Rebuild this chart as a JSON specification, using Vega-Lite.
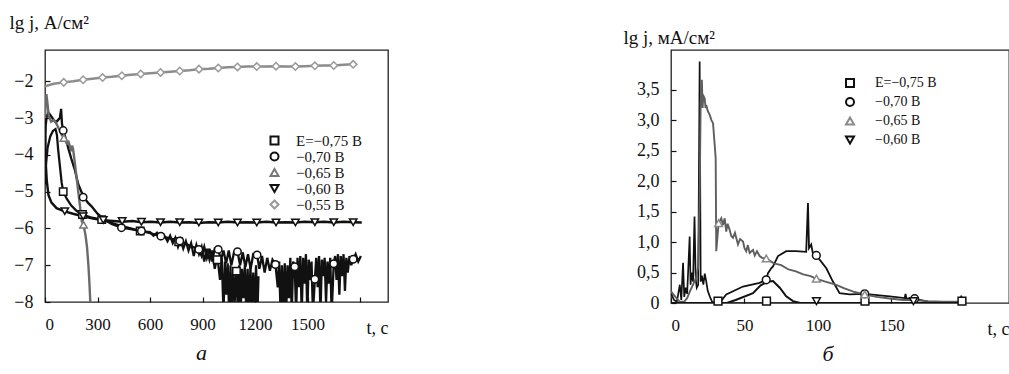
{
  "$schema": "https://vega.github.io/schema/vega-lite/v6.json",
  "padding": {"left": 8, "top": 12, "right": 0, "bottom": 0},
  "spacing": 233,
  "resolve": {"scale": {"color": "independent", "stroke": "independent", "shape": "independent", "strokeWidth": "independent"}, "legend": {"color": "independent", "stroke": "independent", "shape": "independent", "strokeWidth": "independent"}},
  "config": {
    "font": "Liberation Serif",
    "view": {"stroke": "#222", "strokeWidth": 1.3},
    "axis": {"grid": false, "domain": false, "tickColor": "#111", "tickSize": -5, "tickWidth": 1.2, "labelColor": "#111", "labelFontSize": 18, "titleColor": "#111", "titleFontWeight": "normal", "labelFont": "Liberation Serif", "titleFont": "Liberation Serif", "labelOverlap": false, "tickCount": 20},
    "axisX": {"labelPadding": 19, "labelFontSize": 17},
    "axisY": {"labelPadding": 17},
    "legend": {"labelFont": "Liberation Serif", "labelColor": "#111", "padding": 0, "rowPadding": 0, "symbolSize": 64, "symbolStrokeWidth": 2},
    "title": {"fontWeight": "normal", "fontStyle": "italic", "fontSize": 22, "color": "#111", "font": "Liberation Serif"}
  },
  "datasets": {
    "leftLines": [
      {"s":"75","t":0,"v":-4.8},{"s":"75","t":5,"v":-4.3},{"s":"75","t":15,"v":-3.8},{"s":"75","t":30,"v":-3.5},{"s":"75","t":45,"v":-3.35},{"s":"75","t":60,"v":-3.3},{"s":"75","t":68,"v":-3.45},{"s":"75","t":75,"v":-3.85},{"s":"75","t":85,"v":-4.3},{"s":"75","t":95,"v":-4.75},{"s":"75","t":104,"v":-5.0},{"s":"75","t":125,"v":-5.2},{"s":"75","t":150,"v":-5.38},{"s":"75","t":180,"v":-5.52},{"s":"75","t":214,"v":-5.62},{"s":"75","t":260,"v":-5.7},{"s":"75","t":324,"v":-5.76},{"s":"75","t":380,"v":-5.85},{"s":"75","t":434,"v":-5.93},{"s":"75","t":490,"v":-6.0},{"s":"75","t":544,"v":-6.07},{"s":"75","t":600,"v":-6.1},{"s":"75","t":620,"v":-6.2},{"s":"75","t":640,"v":-6.12},{"s":"75","t":660,"v":-6.28},{"s":"75","t":680,"v":-6.18},{"s":"75","t":700,"v":-6.35},{"s":"75","t":715,"v":-6.2},{"s":"75","t":730,"v":-6.4},{"s":"75","t":745,"v":-6.25},{"s":"75","t":760,"v":-6.5},{"s":"75","t":775,"v":-6.3},{"s":"75","t":790,"v":-6.55},{"s":"75","t":805,"v":-6.35},{"s":"75","t":820,"v":-6.6},{"s":"75","t":835,"v":-6.4},{"s":"75","t":850,"v":-6.75},{"s":"75","t":865,"v":-6.45},{"s":"75","t":880,"v":-6.7},{"s":"75","t":895,"v":-6.5},{"s":"75","t":910,"v":-6.9},{"s":"75","t":925,"v":-6.55},{"s":"75","t":940,"v":-6.85},{"s":"75","t":955,"v":-6.6},{"s":"75","t":970,"v":-7.1},{"s":"75","t":985,"v":-6.75},{"s":"75","t":1000,"v":-7.4},{"s":"75","t":1010,"v":-6.8},{"s":"75","t":1020,"v":-8.3},{"s":"75","t":1028,"v":-6.9},{"s":"75","t":1036,"v":-7.8},{"s":"75","t":1044,"v":-6.95},{"s":"75","t":1052,"v":-8.3},{"s":"75","t":1060,"v":-7.0},{"s":"75","t":1068,"v":-8.3},{"s":"75","t":1076,"v":-7.05},{"s":"75","t":1084,"v":-8.0},{"s":"75","t":1094,"v":-7.16},{"s":"75","t":1102,"v":-8.3},{"s":"75","t":1110,"v":-7.0},{"s":"75","t":1118,"v":-8.3},{"s":"75","t":1126,"v":-7.1},{"s":"75","t":1134,"v":-7.9},{"s":"75","t":1142,"v":-7.0},{"s":"75","t":1150,"v":-8.3},{"s":"75","t":1158,"v":-7.1},{"s":"75","t":1166,"v":-8.3},{"s":"75","t":1174,"v":-7.0},{"s":"75","t":1182,"v":-8.3},{"s":"75","t":1190,"v":-7.2},{"s":"75","t":1198,"v":-8.3},{"s":"75","t":1206,"v":-7.0},{"s":"75","t":1214,"v":-8.3},{"s":"75","t":1220,"v":-7.3},
      {"s":"70","t":0,"v":-4.0},{"s":"70","t":4,"v":-3.2},{"s":"70","t":10,"v":-2.95},{"s":"70","t":20,"v":-2.85},{"s":"70","t":35,"v":-2.95},{"s":"70","t":50,"v":-3.05},{"s":"70","t":62,"v":-3.12},{"s":"70","t":75,"v":-3.05},{"s":"70","t":85,"v":-3.0},{"s":"70","t":92,"v":-2.75},{"s":"70","t":97,"v":-3.15},{"s":"70","t":104,"v":-3.34},{"s":"70","t":118,"v":-3.55},{"s":"70","t":135,"v":-3.85},{"s":"70","t":150,"v":-4.1},{"s":"70","t":170,"v":-4.4},{"s":"70","t":190,"v":-4.8},{"s":"70","t":218,"v":-5.12},{"s":"70","t":245,"v":-5.3},{"s":"70","t":266,"v":-5.4},{"s":"70","t":300,"v":-5.6},{"s":"70","t":330,"v":-5.72},{"s":"70","t":380,"v":-5.88},{"s":"70","t":437,"v":-5.98},{"s":"70","t":490,"v":-6.02},{"s":"70","t":551,"v":-6.07},{"s":"70","t":600,"v":-6.13},{"s":"70","t":662,"v":-6.21},{"s":"70","t":715,"v":-6.27},{"s":"70","t":770,"v":-6.34},{"s":"70","t":820,"v":-6.45},{"s":"70","t":879,"v":-6.57},{"s":"70","t":895,"v":-6.75},{"s":"70","t":910,"v":-6.5},{"s":"70","t":925,"v":-6.8},{"s":"70","t":940,"v":-6.55},{"s":"70","t":955,"v":-6.9},{"s":"70","t":970,"v":-6.55},{"s":"70","t":990,"v":-6.57},{"s":"70","t":1005,"v":-6.85},{"s":"70","t":1020,"v":-6.6},{"s":"70","t":1035,"v":-6.95},{"s":"70","t":1050,"v":-6.6},{"s":"70","t":1065,"v":-7.0},{"s":"70","t":1080,"v":-6.65},{"s":"70","t":1100,"v":-6.63},{"s":"70","t":1115,"v":-7.0},{"s":"70","t":1130,"v":-6.65},{"s":"70","t":1145,"v":-7.05},{"s":"70","t":1160,"v":-6.7},{"s":"70","t":1175,"v":-7.1},{"s":"70","t":1190,"v":-6.7},{"s":"70","t":1212,"v":-6.72},{"s":"70","t":1225,"v":-7.1},{"s":"70","t":1240,"v":-6.75},{"s":"70","t":1255,"v":-7.2},{"s":"70","t":1270,"v":-6.8},{"s":"70","t":1285,"v":-7.15},{"s":"70","t":1300,"v":-6.85},{"s":"70","t":1317,"v":-6.98},{"s":"70","t":1330,"v":-7.6},{"s":"70","t":1338,"v":-6.9},{"s":"70","t":1346,"v":-8.3},{"s":"70","t":1354,"v":-7.0},{"s":"70","t":1362,"v":-8.3},{"s":"70","t":1370,"v":-6.95},{"s":"70","t":1378,"v":-8.3},{"s":"70","t":1386,"v":-7.0},{"s":"70","t":1394,"v":-7.9},{"s":"70","t":1402,"v":-6.8},{"s":"70","t":1410,"v":-8.3},{"s":"70","t":1418,"v":-6.9},{"s":"70","t":1427,"v":-7.04},{"s":"70","t":1435,"v":-8.3},{"s":"70","t":1443,"v":-6.8},{"s":"70","t":1451,"v":-7.6},{"s":"70","t":1459,"v":-6.75},{"s":"70","t":1467,"v":-8.3},{"s":"70","t":1475,"v":-6.8},{"s":"70","t":1483,"v":-7.5},{"s":"70","t":1491,"v":-6.7},{"s":"70","t":1499,"v":-8.3},{"s":"70","t":1507,"v":-6.85},{"s":"70","t":1515,"v":-7.4},{"s":"70","t":1523,"v":-6.9},{"s":"70","t":1531,"v":-8.3},{"s":"70","t":1542,"v":-7.38},{"s":"70","t":1550,"v":-6.8},{"s":"70","t":1558,"v":-7.6},{"s":"70","t":1566,"v":-6.75},{"s":"70","t":1574,"v":-8.3},{"s":"70","t":1582,"v":-6.85},{"s":"70","t":1590,"v":-7.3},{"s":"70","t":1598,"v":-6.8},{"s":"70","t":1606,"v":-8.0},{"s":"70","t":1614,"v":-6.9},{"s":"70","t":1622,"v":-7.5},{"s":"70","t":1630,"v":-6.8},{"s":"70","t":1638,"v":-8.3},{"s":"70","t":1650,"v":-6.96},{"s":"70","t":1658,"v":-6.75},{"s":"70","t":1666,"v":-7.4},{"s":"70","t":1674,"v":-6.7},{"s":"70","t":1682,"v":-7.8},{"s":"70","t":1690,"v":-6.75},{"s":"70","t":1698,"v":-7.3},{"s":"70","t":1706,"v":-6.7},{"s":"70","t":1714,"v":-7.7},{"s":"70","t":1722,"v":-6.8},{"s":"70","t":1730,"v":-7.2},{"s":"70","t":1740,"v":-6.75},{"s":"70","t":1750,"v":-7.0},{"s":"70","t":1761,"v":-6.84},{"s":"70","t":1775,"v":-6.7},{"s":"70","t":1790,"v":-6.9},{"s":"70","t":1805,"v":-6.75},
      {"s":"65","t":0,"v":-3.0},{"s":"65","t":4,"v":-2.5},{"s":"65","t":8,"v":-2.35},{"s":"65","t":14,"v":-2.6},{"s":"65","t":22,"v":-2.95},{"s":"65","t":35,"v":-3.1},{"s":"65","t":50,"v":-3.05},{"s":"65","t":65,"v":-3.15},{"s":"65","t":80,"v":-3.3},{"s":"65","t":95,"v":-3.45},{"s":"65","t":108,"v":-3.54},{"s":"65","t":125,"v":-3.7},{"s":"65","t":135,"v":-3.65},{"s":"65","t":142,"v":-3.76},{"s":"65","t":150,"v":-3.9},{"s":"65","t":155,"v":-3.75},{"s":"65","t":161,"v":-3.86},{"s":"65","t":170,"v":-4.2},{"s":"65","t":185,"v":-4.8},{"s":"65","t":200,"v":-5.4},{"s":"65","t":210,"v":-5.8},{"s":"65","t":220,"v":-5.9},{"s":"65","t":232,"v":-6.2},{"s":"65","t":240,"v":-6.5},{"s":"65","t":248,"v":-7.0},{"s":"65","t":254,"v":-7.5},{"s":"65","t":258,"v":-7.9},{"s":"65","t":262,"v":-8.4},
      {"s":"60","t":0,"v":-3.5},{"s":"60","t":4,"v":-4.2},{"s":"60","t":10,"v":-4.7},{"s":"60","t":20,"v":-5.1},{"s":"60","t":37,"v":-5.3},{"s":"60","t":66,"v":-5.45},{"s":"60","t":108,"v":-5.53},{"s":"60","t":160,"v":-5.6},{"s":"60","t":218,"v":-5.67},{"s":"60","t":275,"v":-5.73},{"s":"60","t":333,"v":-5.78},{"s":"60","t":390,"v":-5.8},{"s":"60","t":441,"v":-5.82},{"s":"60","t":500,"v":-5.8},{"s":"60","t":551,"v":-5.83},{"s":"60","t":605,"v":-5.82},{"s":"60","t":660,"v":-5.84},{"s":"60","t":715,"v":-5.82},{"s":"60","t":770,"v":-5.84},{"s":"60","t":825,"v":-5.83},{"s":"60","t":879,"v":-5.85},{"s":"60","t":935,"v":-5.83},{"s":"60","t":990,"v":-5.84},{"s":"60","t":1045,"v":-5.82},{"s":"60","t":1100,"v":-5.84},{"s":"60","t":1155,"v":-5.83},{"s":"60","t":1210,"v":-5.84},{"s":"60","t":1265,"v":-5.82},{"s":"60","t":1320,"v":-5.84},{"s":"60","t":1375,"v":-5.83},{"s":"60","t":1431,"v":-5.84},{"s":"60","t":1485,"v":-5.82},{"s":"60","t":1542,"v":-5.83},{"s":"60","t":1595,"v":-5.82},{"s":"60","t":1650,"v":-5.84},{"s":"60","t":1705,"v":-5.82},{"s":"60","t":1761,"v":-5.83},{"s":"60","t":1810,"v":-5.84},
      {"s":"55","t":0,"v":-2.14},{"s":"55","t":20,"v":-2.11},{"s":"55","t":50,"v":-2.07},{"s":"55","t":107,"v":-2.03},{"s":"55","t":160,"v":-2.0},{"s":"55","t":218,"v":-1.96},{"s":"55","t":270,"v":-1.93},{"s":"55","t":329,"v":-1.9},{"s":"55","t":380,"v":-1.88},{"s":"55","t":439,"v":-1.85},{"s":"55","t":490,"v":-1.82},{"s":"55","t":547,"v":-1.8},{"s":"55","t":600,"v":-1.78},{"s":"55","t":660,"v":-1.76},{"s":"55","t":715,"v":-1.74},{"s":"55","t":770,"v":-1.72},{"s":"55","t":825,"v":-1.7},{"s":"55","t":880,"v":-1.67},{"s":"55","t":935,"v":-1.66},{"s":"55","t":990,"v":-1.64},{"s":"55","t":1045,"v":-1.62},{"s":"55","t":1100,"v":-1.61},{"s":"55","t":1155,"v":-1.6},{"s":"55","t":1210,"v":-1.6},{"s":"55","t":1265,"v":-1.6},{"s":"55","t":1320,"v":-1.59},{"s":"55","t":1375,"v":-1.6},{"s":"55","t":1431,"v":-1.6},{"s":"55","t":1485,"v":-1.59},{"s":"55","t":1542,"v":-1.58},{"s":"55","t":1595,"v":-1.57},{"s":"55","t":1650,"v":-1.57},{"s":"55","t":1705,"v":-1.55},{"s":"55","t":1761,"v":-1.54}
    ],
    "leftMarks": [
      {"s":"75","t":104,"v":-5.0},{"s":"75","t":214,"v":-5.62},{"s":"75","t":324,"v":-5.76},{"s":"75","t":544,"v":-6.07},{"s":"75","t":764,"v":-6.36},{"s":"75","t":984,"v":-6.85},{"s":"75","t":1094,"v":-7.16},
      {"s":"70","t":104,"v":-3.34},{"s":"70","t":218,"v":-5.15},{"s":"70","t":437,"v":-5.98},{"s":"70","t":551,"v":-6.07},{"s":"70","t":662,"v":-6.21},{"s":"70","t":770,"v":-6.34},{"s":"70","t":879,"v":-6.57},{"s":"70","t":990,"v":-6.57},{"s":"70","t":1100,"v":-6.63},{"s":"70","t":1212,"v":-6.72},{"s":"70","t":1317,"v":-6.98},{"s":"70","t":1427,"v":-7.04},{"s":"70","t":1542,"v":-7.38},{"s":"70","t":1650,"v":-6.96},{"s":"70","t":1761,"v":-6.84},
      {"s":"65","t":108,"v":-3.54},{"s":"65","t":220,"v":-5.9},
      {"s":"60","t":113,"v":-5.53},{"s":"60","t":218,"v":-5.67},{"s":"60","t":333,"v":-5.77},{"s":"60","t":441,"v":-5.8},{"s":"60","t":551,"v":-5.82},{"s":"60","t":660,"v":-5.83},{"s":"60","t":770,"v":-5.83},{"s":"60","t":879,"v":-5.84},{"s":"60","t":990,"v":-5.84},{"s":"60","t":1100,"v":-5.84},{"s":"60","t":1210,"v":-5.84},{"s":"60","t":1320,"v":-5.84},{"s":"60","t":1431,"v":-5.84},{"s":"60","t":1542,"v":-5.83},{"s":"60","t":1650,"v":-5.83},{"s":"60","t":1761,"v":-5.83},
      {"s":"55","t":107,"v":-2.03},{"s":"55","t":218,"v":-1.96},{"s":"55","t":329,"v":-1.9},{"s":"55","t":439,"v":-1.85},{"s":"55","t":547,"v":-1.8},{"s":"55","t":660,"v":-1.76},{"s":"55","t":770,"v":-1.72},{"s":"55","t":880,"v":-1.67},{"s":"55","t":990,"v":-1.64},{"s":"55","t":1100,"v":-1.61},{"s":"55","t":1210,"v":-1.6},{"s":"55","t":1320,"v":-1.59},{"s":"55","t":1431,"v":-1.6},{"s":"55","t":1542,"v":-1.58},{"s":"55","t":1650,"v":-1.57},{"s":"55","t":1761,"v":-1.54}
    ],
    "rightLines": [
      {"s":"75","t":0,"v":0.16},{"s":"75","t":2,"v":0.05},{"s":"75","t":4,"v":0.02},{"s":"75","t":6,"v":0.3},{"s":"75","t":7,"v":0.05},{"s":"75","t":8.2,"v":0.66},{"s":"75","t":9,"v":0.1},{"s":"75","t":10,"v":0.25},{"s":"75","t":11,"v":0.15},{"s":"75","t":12.7,"v":1.09},{"s":"75","t":13.3,"v":0.3},{"s":"75","t":14,"v":0.5},{"s":"75","t":15,"v":0.35},{"s":"75","t":16,"v":1.42},{"s":"75","t":16.8,"v":0.4},{"s":"75","t":17.5,"v":0.25},{"s":"75","t":18.5,"v":0.3},{"s":"75","t":19.5,"v":3.96},{"s":"75","t":20.2,"v":0.35},{"s":"75","t":21,"v":0.45},{"s":"75","t":22,"v":0.3},{"s":"75","t":23,"v":0.48},{"s":"75","t":24,"v":0.35},{"s":"75","t":25,"v":0.2},{"s":"75","t":26.5,"v":0.1},{"s":"75","t":28,"v":0.02},{"s":"75","t":30,"v":0},{"s":"75","t":100,"v":0},{"s":"75","t":200,"v":0},
      {"s":"70","t":0,"v":0},{"s":"70","t":33,"v":0},{"s":"70","t":37.6,"v":0.14},{"s":"70","t":49,"v":0.27},{"s":"70","t":60.3,"v":0.33},{"s":"70","t":64.8,"v":0.38},{"s":"70","t":66,"v":0.49},{"s":"70","t":68.2,"v":0.57},{"s":"70","t":69.4,"v":0.6},{"s":"70","t":72.8,"v":0.77},{"s":"70","t":78.4,"v":0.85},{"s":"70","t":85,"v":0.85},{"s":"70","t":92,"v":0.84},{"s":"70","t":93.2,"v":1.64},{"s":"70","t":93.9,"v":0.9},{"s":"70","t":95.4,"v":0.96},{"s":"70","t":96.5,"v":0.82},{"s":"70","t":98.9,"v":0.78},{"s":"70","t":105.7,"v":0.57},{"s":"70","t":110,"v":0.36},{"s":"70","t":114.7,"v":0.16},{"s":"70","t":121.5,"v":0.14},{"s":"70","t":131.8,"v":0.15},{"s":"70","t":148.8,"v":0.11},{"s":"70","t":159,"v":0.08},{"s":"70","t":159.6,"v":0.15},{"s":"70","t":160.2,"v":0.07},{"s":"70","t":165.8,"v":0.07},{"s":"70","t":175,"v":0.02},{"s":"70","t":185,"v":0.0},{"s":"70","t":197,"v":0.0},{"s":"70","t":197.5,"v":0.12},{"s":"70","t":198,"v":0.0},{"s":"70","t":200,"v":0.0},
      {"s":"65","t":0,"v":0.19},{"s":"65","t":3,"v":0.1},{"s":"65","t":6,"v":0.02},{"s":"65","t":9,"v":0.02},{"s":"65","t":11,"v":0.08},{"s":"65","t":13,"v":0.2},{"s":"65","t":15,"v":0.3},{"s":"65","t":17,"v":0.41},{"s":"65","t":18.5,"v":0.6},{"s":"65","t":19.5,"v":1.75},{"s":"65","t":20.2,"v":3.3},{"s":"65","t":21,"v":3.66},{"s":"65","t":21.5,"v":3.2},{"s":"65","t":22,"v":3.4},{"s":"65","t":22.9,"v":3.36},{"s":"65","t":23.5,"v":3.2},{"s":"65","t":24,"v":3.25},{"s":"65","t":25,"v":3.15},{"s":"65","t":26.3,"v":3.09},{"s":"65","t":27.5,"v":3.0},{"s":"65","t":28.6,"v":2.95},{"s":"65","t":30.4,"v":2.38},{"s":"65","t":30.8,"v":0.85},{"s":"65","t":32.4,"v":1.31},{"s":"65","t":34.2,"v":1.39},{"s":"65","t":35.4,"v":1.28},{"s":"65","t":36.5,"v":1.39},{"s":"65","t":37.6,"v":1.17},{"s":"65","t":38.5,"v":1.3},{"s":"65","t":39.9,"v":1.2},{"s":"65","t":41,"v":1.1},{"s":"65","t":42.2,"v":1.07},{"s":"65","t":43.5,"v":1.15},{"s":"65","t":45.6,"v":0.96},{"s":"65","t":47,"v":1.05},{"s":"65","t":49,"v":1.01},{"s":"65","t":50,"v":0.9},{"s":"65","t":51.2,"v":0.85},{"s":"65","t":52.3,"v":0.95},{"s":"65","t":53.5,"v":0.82},{"s":"65","t":55.8,"v":0.87},{"s":"65","t":57,"v":0.78},{"s":"65","t":58.5,"v":0.85},{"s":"65","t":60.3,"v":0.77},{"s":"65","t":62,"v":0.74},{"s":"65","t":64.8,"v":0.73},{"s":"65","t":70,"v":0.65},{"s":"65","t":75,"v":0.62},{"s":"65","t":80,"v":0.55},{"s":"65","t":85,"v":0.52},{"s":"65","t":90,"v":0.47},{"s":"65","t":95,"v":0.44},{"s":"65","t":98.6,"v":0.4},{"s":"65","t":105,"v":0.35},{"s":"65","t":112,"v":0.3},{"s":"65","t":118,"v":0.24},{"s":"65","t":125,"v":0.18},{"s":"65","t":131.8,"v":0.14},{"s":"65","t":140,"v":0.1},{"s":"65","t":150,"v":0.07},{"s":"65","t":158,"v":0.05},{"s":"65","t":164.6,"v":0.05},{"s":"65","t":175,"v":0.03},{"s":"65","t":185,"v":0.02},{"s":"65","t":198,"v":0.02},{"s":"65","t":200,"v":0.0},
      {"s":"60","t":0,"v":0},{"s":"60","t":38,"v":0},{"s":"60","t":44,"v":0.05},{"s":"60","t":55.8,"v":0.16},{"s":"60","t":61,"v":0.29},{"s":"60","t":66,"v":0.35},{"s":"60","t":69.4,"v":0.36},{"s":"60","t":74,"v":0.25},{"s":"60","t":78.4,"v":0.11},{"s":"60","t":83,"v":0.03},{"s":"60","t":88,"v":0},{"s":"60","t":200,"v":0}
    ],
    "rightMarks": [
      {"s":"75","t":32,"v":0.03},{"s":"75","t":65,"v":0.03},{"s":"75","t":132,"v":0.03},{"s":"75","t":198,"v":0.03},
      {"s":"70","t":64.8,"v":0.38},{"s":"70","t":98.9,"v":0.78},{"s":"70","t":131.8,"v":0.15},{"s":"70","t":165.8,"v":0.07},
      {"s":"65","t":32.4,"v":1.31},{"s":"65","t":64.8,"v":0.73},{"s":"65","t":98.9,"v":0.4},{"s":"65","t":131.8,"v":0.14},
      {"s":"60","t":99,"v":0.03},{"s":"60","t":165,"v":0.03}
    ]
  },
  "hconcat": [
    {
      "width": 343,
      "height": 252,
      "title": {"text": "а", "orient": "bottom", "offset": 6, "dx": -15},
      "layer": [
        {
          "data": {"name": "leftLines"},
          "mark": {"type": "line", "clip": true},
          "encoding": {
            "x": {"field": "t", "type": "quantitative", "scale": {"domain": [0, 1960], "nice": false, "zero": false},
              "axis": {"values": [0, 300, 600, 900, 1200, 1500, 1800], "tickCount": 20, "format": "d", "labelExpr": "datum.value == 1800 ? '' : datum.label", "title": "t, с", "titleX": 343, "titleY": 31, "titleAlign": "right", "titleBaseline": "alphabetic", "titleFontSize": 18, "titleAngle": 0}},
            "y": {"field": "v", "type": "quantitative", "scale": {"domain": [-8, -1.15], "nice": false, "zero": false},
              "axis": {"values": [-8, -7, -6, -5, -4, -3, -2], "tickCount": 20, "format": "d", "labelOverlap": false, "title": "lg j, А/см²", "titleAngle": 0, "titleX": -36, "titleY": -22, "titleAlign": "left", "titleBaseline": "alphabetic", "titleFontSize": 19}},
            "color": {"field": "s", "type": "nominal", "scale": {"domain": ["55", "60", "65", "70", "75"], "range": ["#8c8c8c", "#111111", "#6a6a6a", "#111111", "#111111"]}, "legend": null},
            "strokeWidth": {"field": "s", "type": "nominal", "scale": {"domain": ["55", "60", "65", "70", "75", "x"], "range": [2.5, 2.2, 1.8, 2, 2, 1]}, "legend": null}
          }
        },
        {
          "data": {"name": "leftMarks"},
          "mark": {"type": "point", "filled": true, "fill": "white", "size": 55, "strokeWidth": 1.5, "opacity": 1, "clip": true},
          "encoding": {
            "x": {"field": "t", "type": "quantitative"},
            "y": {"field": "v", "type": "quantitative"},
            "stroke": {"field": "s", "type": "nominal", "scale": {"domain": ["75", "70", "65", "60", "55"], "range": ["#111111", "#111111", "#777777", "#111111", "#9a9a9a"]},
              "legend": {"title": null, "orient": "none", "legendX": 222, "legendY": 83, "labelFontSize": 15, "labelOffset": 14, "rowPadding": -2,
                "labelExpr": "datum.value == '75' ? 'E=−0,75 В' : '−0,' + datum.value + ' В'",
                "encode": {"symbols": {"fill": {"value": "#ffffff"}, "strokeWidth": {"value": 2}, "opacity": {"value": 1}}}}},
            "shape": {"field": "s", "type": "nominal", "scale": {"domain": ["75", "70", "65", "60", "55"], "range": ["square", "circle", "triangle-up", "triangle-down", "diamond"]},
              "legend": {"title": null, "orient": "none", "legendX": 222, "legendY": 83, "labelFontSize": 15, "labelOffset": 14, "rowPadding": -2,
                "labelExpr": "datum.value == '75' ? 'E=−0,75 В' : '−0,' + datum.value + ' В'",
                "encode": {"symbols": {"fill": {"value": "#ffffff"}, "strokeWidth": {"value": 2}, "opacity": {"value": 1}}}}}
          }
        }
      ]
    },
    {
      "width": 338,
      "height": 253,
      "title": {"text": "б", "orient": "bottom", "offset": 6, "dx": -12},
      "layer": [
        {
          "data": {"name": "rightLines"},
          "mark": {"type": "line", "clip": true},
          "encoding": {
            "x": {"field": "t", "type": "quantitative", "scale": {"domain": [0, 230], "nice": false, "zero": false},
              "axis": {"values": [0, 50, 100, 150, 200], "tickCount": 20, "format": "d", "labelExpr": "datum.value == 200 ? '' : datum.label", "title": "t, с", "titleX": 338, "titleY": 31, "titleAlign": "right", "titleBaseline": "alphabetic", "titleFontSize": 18, "titleAngle": 0}},
            "y": {"field": "v", "type": "quantitative", "scale": {"domain": [0, 4.15], "nice": false, "zero": false},
              "axis": {"values": [0, 0.5, 1, 1.5, 2, 2.5, 3, 3.5], "tickCount": 20, "labelOverlap": false, "labelExpr": "datum.value == 0 ? '0' : replace(format(datum.value, '.1f'), '.', ',')", "title": "lg j, мА/см²", "titleAngle": 0, "titleX": -48, "titleY": -7, "titleAlign": "left", "titleBaseline": "alphabetic", "titleFontSize": 19}},
            "color": {"field": "s", "type": "nominal", "scale": {"domain": ["60", "65", "70", "75"], "range": ["#111111", "#5e5e5e", "#111111", "#111111"]}, "legend": null},
            "strokeWidth": {"field": "s", "type": "nominal", "scale": {"domain": ["60", "65", "70", "75", "x"], "range": [2, 1.6, 2.2, 2, 1]}, "legend": null}
          }
        },
        {
          "data": {"name": "rightMarks"},
          "mark": {"type": "point", "filled": true, "fill": "white", "size": 60, "strokeWidth": 1.5, "opacity": 1, "clip": false},
          "encoding": {
            "x": {"field": "t", "type": "quantitative"},
            "y": {"field": "v", "type": "quantitative"},
            "stroke": {"field": "s", "type": "nominal", "scale": {"domain": ["75", "70", "65", "60"], "range": ["#111111", "#111111", "#8a8a8a", "#111111"]},
              "legend": {"title": null, "orient": "none", "legendX": 172, "legendY": 26, "labelFontSize": 14, "labelOffset": 18, "rowPadding": 3,
                "labelExpr": "datum.value == '75' ? 'E=−0,75 В' : '−0,' + datum.value + ' В'",
                "encode": {"symbols": {"fill": {"value": "#ffffff"}, "strokeWidth": {"value": 2}, "opacity": {"value": 1}}}}},
            "shape": {"field": "s", "type": "nominal", "scale": {"domain": ["75", "70", "65", "60"], "range": ["square", "circle", "triangle-up", "triangle-down"]},
              "legend": {"title": null, "orient": "none", "legendX": 172, "legendY": 26, "labelFontSize": 14, "labelOffset": 18, "rowPadding": 3,
                "labelExpr": "datum.value == '75' ? 'E=−0,75 В' : '−0,' + datum.value + ' В'",
                "encode": {"symbols": {"fill": {"value": "#ffffff"}, "strokeWidth": {"value": 2}, "opacity": {"value": 1}}}}}
          }
        }
      ]
    }
  ]
}
